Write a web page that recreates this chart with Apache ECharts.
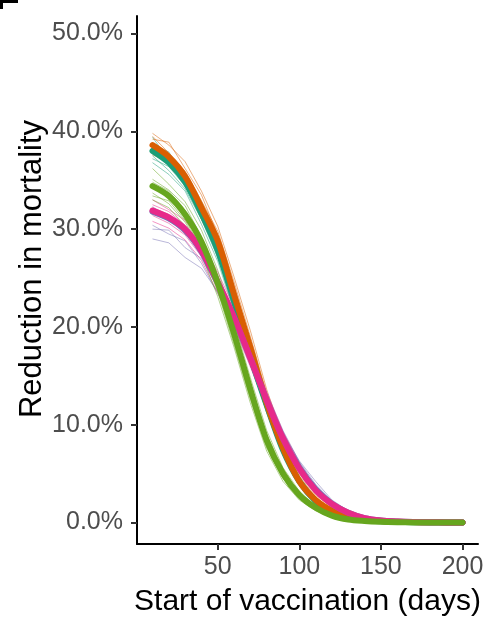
<!DOCTYPE html>
<html>
<head>
<meta charset="utf-8">
<script src="https://cdn.jsdelivr.net/npm/echarts@6/dist/echarts.min.js"></script>
<style>
html,body{margin:0;padding:0;background:#fff;}
#chart{width:492px;height:626px;}
</style>
</head>
<body>
<div id="chart"></div>
<script>
// x values (start of vaccination, days)
var days = [10,20,30,40,50,60,70,80,90,100,110,120,130,140,150,160,170,180,190,200];
var xTicks = [50,100,150,200];
var yTicks = [0,10,20,30,40,50];

// group colours (Dark2)
var colTeal = '#1b9e77', colOrange = '#d95f02', colPurple = '#7570b3', colPink = '#e7298a', colGreen = '#66a61e';

// mean curves (% reduction in mortality)
var meanTeal   = [38.0,36.8,34.8,31.6,27.8,22.6,17.0,12.0,7.4,4.2,2.2,1.1,0.55,0.25,0.12,0.06,0.03,0.01,0,0];
var meanOrange = [38.6,37.4,35.4,32.2,28.8,23.3,17.9,12.2,7.6,4.2,2.3,1.2,0.6,0.3,0.15,0.08,0.04,0.02,0.01,0];
var meanPurple = [31.8,31.1,29.9,27.7,24.5,20.9,16.8,12.5,8.6,5.6,3.4,1.9,1.0,0.45,0.2,0.1,0.05,0.02,0.01,0];
var meanPink   = [31.9,31.2,30.0,27.8,24.6,21.0,16.8,12.5,8.6,5.5,3.3,1.9,1.0,0.45,0.2,0.1,0.05,0.02,0.01,0];
var meanGreen  = [34.4,33.4,31.5,28.7,24.5,19.3,13.6,8.4,5.0,2.8,1.5,0.7,0.3,0.15,0.07,0.03,0.01,0,0,0];

// individual runs
var runsOrange = [
  [39.8,38.6,36.9,33.9,30.3,25.1,19.6,13.6,8.7,5.0,2.8,1.5,0.8,0.4,0.2,0.1,0.05,0.02,0.01,0],
  [38.0,36.5,34.6,31.0,27.6,22.0,16.8,11.2,6.9,3.8,2.0,1.0,0.5,0.25,0.12,0.06,0.03,0.01,0,0],
  [39.2,38.9,36.2,33.5,29.4,24.2,18.5,12.9,8.1,4.6,2.5,1.4,0.7,0.3,0.15,0.07,0.03,0.01,0,0],
  [37.6,36.9,34.9,31.5,28.2,22.8,17.2,11.7,7.2,3.9,2.1,1.1,0.5,0.2,0.1,0.05,0.02,0.01,0,0],
  [39.5,37.8,35.9,32.9,29.8,24.6,19.0,13.2,8.4,4.8,2.6,1.3,0.6,0.3,0.14,0.07,0.03,0.01,0,0],
  [38.4,37.0,35.1,31.9,28.3,22.6,17.4,11.9,7.5,4.1,2.2,1.2,0.6,0.3,0.14,0.07,0.03,0.01,0,0]
];
var runsTeal = [
  [39.4,37.1,35.6,32.8,29.0,23.9,18.1,12.8,8.0,4.6,2.5,1.3,0.6,0.3,0.14,0.07,0.03,0.01,0,0],
  [36.8,35.6,33.9,30.5,26.7,21.6,16.2,11.3,6.9,3.9,2.0,1.0,0.5,0.22,0.1,0.05,0.02,0.01,0,0],
  [38.6,37.9,35.2,32.3,28.6,23.5,17.9,12.6,7.9,4.5,2.4,1.2,0.6,0.28,0.13,0.06,0.03,0.01,0,0],
  [37.5,36.0,34.1,31.0,27.1,21.9,16.5,11.5,7.0,3.9,2.1,1.0,0.5,0.22,0.1,0.05,0.02,0.01,0,0],
  [38.9,36.6,35.0,31.8,28.1,23.0,17.4,12.3,7.7,4.4,2.3,1.2,0.6,0.27,0.12,0.06,0.03,0.01,0,0],
  [37.2,36.4,34.4,31.2,27.4,22.2,16.6,11.7,7.2,4.0,2.1,1.1,0.5,0.24,0.11,0.05,0.02,0.01,0,0]
];
var runsGreen = [
  [36.2,34.6,32.8,29.9,25.8,20.5,14.8,9.4,5.6,3.2,1.7,0.8,0.35,0.17,0.08,0.03,0.01,0,0,0],
  [33.0,32.2,30.3,27.4,23.1,17.9,12.2,7.3,4.2,2.3,1.2,0.5,0.2,0.1,0.05,0.02,0.01,0,0,0],
  [35.1,34.0,32.4,29.2,25.3,20.1,14.2,9.0,5.4,3.0,1.6,0.8,0.35,0.16,0.07,0.03,0.01,0,0,0],
  [33.7,32.6,30.7,27.9,23.6,18.2,12.6,7.6,4.5,2.5,1.3,0.6,0.25,0.12,0.05,0.02,0.01,0,0,0],
  [34.8,33.9,31.9,28.9,24.9,19.8,14.0,8.7,5.2,2.9,1.5,0.7,0.3,0.14,0.06,0.03,0.01,0,0,0],
  [33.4,32.9,30.9,28.2,23.9,18.6,12.9,8.0,4.7,2.6,1.4,0.6,0.3,0.13,0.06,0.02,0.01,0,0,0]
];
var runsPink = [
  [33.0,32.0,30.9,28.8,25.6,22.0,17.8,13.4,9.3,6.1,3.7,2.1,1.1,0.5,0.22,0.1,0.05,0.02,0.01,0],
  [30.8,30.1,28.9,26.8,23.5,20.0,15.9,11.7,8.0,5.0,3.0,1.7,0.9,0.4,0.18,0.08,0.04,0.02,0.01,0],
  [32.5,31.8,30.4,28.3,25.0,21.4,17.2,12.9,9.0,5.8,3.5,2.0,1.0,0.5,0.2,0.1,0.05,0.02,0.01,0],
  [31.4,30.6,29.4,27.2,24.0,20.4,16.3,12.1,8.3,5.3,3.2,1.8,0.9,0.4,0.18,0.09,0.04,0.02,0.01,0],
  [32.2,31.5,30.1,27.9,24.8,21.2,16.9,12.6,8.7,5.6,3.4,1.9,1.0,0.45,0.2,0.1,0.05,0.02,0.01,0],
  [31.7,30.9,29.8,27.5,24.3,20.7,16.5,12.3,8.5,5.4,3.2,1.8,0.95,0.42,0.19,0.09,0.04,0.02,0.01,0]
];
var runsPurple = [
  [29.0,28.6,27.1,26.0,23.6,20.5,16.7,12.6,8.9,5.9,3.7,2.2,1.1,0.5,0.2,0.1,0.05,0.02,0.01,0],
  [32.3,31.2,29.9,27.6,24.5,21.1,17.0,12.8,9.1,6.3,4.2,2.3,1.2,0.55,0.25,0.1,0.05,0.02,0.01,0],
  [30.4,29.5,28.8,26.5,23.4,20.1,16.1,12.0,8.4,5.5,3.4,2.0,1.0,0.45,0.2,0.1,0.05,0.02,0.01,0],
  [31.6,31.0,29.5,27.9,25.0,21.5,17.5,13.2,9.4,6.2,3.9,2.2,1.2,0.55,0.24,0.11,0.05,0.02,0.01,0],
  [30.0,29.9,28.1,27.0,24.0,20.6,16.6,12.4,8.6,5.6,3.5,2.0,1.0,0.48,0.21,0.1,0.04,0.02,0.01,0]
];

function pairs(vals){ return days.map(function(d,i){ return [d, vals[i]]; }); }

var series = [];
function addRuns(runs, color){
  runs.forEach(function(r){
    series.push({type:'line', data:pairs(r), showSymbol:false, symbol:'none', silent:true,
      lineStyle:{color:color, width:1, opacity:0.5}, z:2});
  });
}
addRuns(runsTeal, colTeal);
addRuns(runsOrange, colOrange);
addRuns(runsPurple, colPurple);
addRuns(runsPink, colPink);
addRuns(runsGreen, colGreen);

[[meanTeal,colTeal],[meanOrange,colOrange],[meanPurple,colPurple],[meanPink,colPink],[meanGreen,colGreen]].forEach(function(m,i){
  series.push({type:'line', data:pairs(m[0]), showSymbol:false, symbol:'none', silent:true, smooth:0.3,
    lineStyle:{color:m[1], width:6, opacity:1, cap:'round', join:'round'}, z:3+i});
});

var font = 'Liberation Sans, Arial, Helvetica, sans-serif';
var chart = echarts.init(document.getElementById('chart'), null, {renderer:'canvas'});
chart.setOption({
  animation:false,
  backgroundColor:'#ffffff',
  grid:{left:137, right:14, top:16, bottom:82, containLabel:false},
  xAxis:{type:'value', min:0.5, max:209.5,
    name:'Start of vaccination (days)', nameLocation:'middle', nameGap:43,
    nameTextStyle:{fontFamily:font, fontSize:30, color:'#000'},
    axisLine:{show:true, onZero:false, lineStyle:{color:'#000', width:2}},
    axisTick:{show:true, length:6, lineStyle:{color:'#333', width:2}, customValues:xTicks},
    axisLabel:{customValues:xTicks, fontFamily:font, fontSize:25, color:'#4d4d4d', margin:11},
    splitLine:{show:false}},
  yAxis:{type:'value', min:-2.2, max:51.8,
    name:'Reduction in mortality', nameLocation:'middle', nameGap:89, nameRotate:90, nameMoveOverlap:false,
    nameTextStyle:{fontFamily:font, fontSize:31, color:'#000', padding:[0,0,0,22]},
    axisLine:{show:true, onZero:false, lineStyle:{color:'#000', width:2}},
    axisTick:{show:true, length:6, lineStyle:{color:'#333', width:2}, customValues:yTicks},
    axisLabel:{customValues:yTicks, fontFamily:font, fontSize:25, color:'#4d4d4d', margin:14,
      formatter:function(v){ return v.toFixed(1) + '%'; }},
    splitLine:{show:false}},
  graphic:[
    {type:'rect', left:0, top:0, shape:{width:18, height:3}, style:{fill:'#000'}},
    {type:'rect', left:0, top:0, shape:{width:3, height:9}, style:{fill:'#000'}}
  ],
  series:series
});
</script>
</body>
</html>
